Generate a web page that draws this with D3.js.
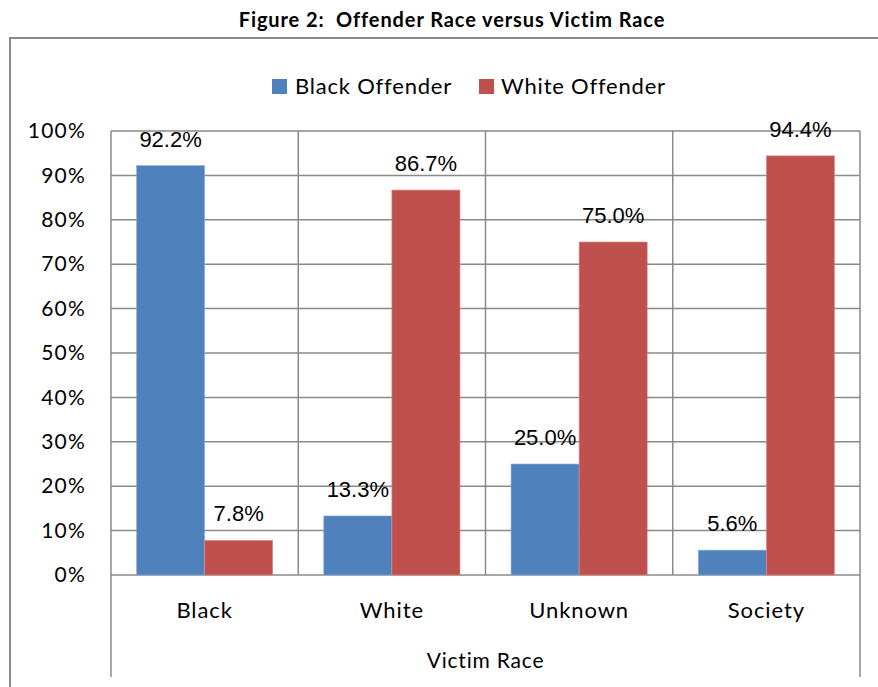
<!DOCTYPE html>
<html><head><meta charset="utf-8">
<script src="https://cdn.jsdelivr.net/npm/d3@7"></script>
<style>body{margin:0;background:#fff}svg{display:block}</style>
</head><body>
<svg id="c" width="878" height="687"></svg>
<script>
const categories = ["Black", "White", "Unknown", "Society"];
const seriesNames = ["Black Offender", "White Offender"];
const blackOffender = [92.2, 13.3, 25.0, 5.6];
const whiteOffender = [7.8, 86.7, 75.0, 94.4];
const tickValues = [0,10,20,30,40,50,60,70,80,90,100];
const colors = ["#4F81BD", "#C0504D"];
const title = "Figure 2:  Offender Race versus Victim Race";
const xTitle = "Victim Race";

const svg = d3.select("#c");
const F = "Lato, 'Open Sans', sans-serif";
const L = {left:111, right:860, top:131, bottom:575};

svg.append("text").attr("x",452).attr("y",27).attr("text-anchor","middle")
  .style("white-space","pre")
  .attr("font-family",F).attr("font-weight","bold").attr("font-size",20).attr("letter-spacing",0.9)
  .attr("fill","#000").text(title);

// outer chart border
svg.append("rect").attr("x",10).attr("y",38).attr("width",890).attr("height",700)
  .attr("fill","none").attr("stroke","#8a8a8a").attr("stroke-width",2);

const x0 = d3.scaleBand().domain(categories).range([L.left, L.right]);
const x1 = d3.scaleBand().domain(seriesNames).range([0, x0.bandwidth()]).paddingOuter((51/2)/68).paddingInner(0);
const y = d3.scaleLinear().domain([0,100]).range([L.bottom, L.top]);

// gridlines
svg.append("g").selectAll("line").data(tickValues).join("line")
  .attr("x1",L.left).attr("x2",L.right).attr("y1",d=>y(d)).attr("y2",d=>y(d))
  .attr("stroke","#8a8a8a").attr("stroke-width",1.5);
// category dividers
svg.append("g").selectAll("line").data(categories.slice(1)).join("line")
  .attr("x1",d=>x0(d)).attr("x2",d=>x0(d)).attr("y1",L.top).attr("y2",L.bottom)
  .attr("stroke","#8a8a8a").attr("stroke-width",1.5);
// outer axis lines extending to bottom
[L.left, L.right].forEach(xx=>{
  svg.append("line").attr("x1",xx).attr("x2",xx).attr("y1",L.top).attr("y2",677)
    .attr("stroke","#8a8a8a").attr("stroke-width",1.5);
});

// y axis labels
const yAxis = d3.axisLeft(y).tickValues(tickValues).tickFormat(d=>d+"%").tickSize(0).tickPadding(25);
const ya = svg.append("g").attr("transform",`translate(${L.left},0)`).call(yAxis);
ya.select(".domain").remove();
ya.selectAll("text").attr("font-family",F).attr("font-size",21).attr("letter-spacing",1.2).attr("fill","#000");

// bars
const data = categories.map((c,i)=>({cat:c, vals:[blackOffender[i], whiteOffender[i]]}));
const g = svg.append("g").selectAll("g").data(data).join("g")
  .attr("transform",d=>`translate(${x0(d.cat)},0)`);
g.selectAll("rect").data(d=>d.vals.map((v,j)=>({v, s:seriesNames[j], j}))).join("rect")
  .attr("x",d=>x1(d.s)).attr("width",x1.bandwidth())
  .attr("y",d=>y(d.v)).attr("height",d=>y(0)-y(d.v))
  .attr("fill",d=>colors[d.j]).attr("stroke",d=>d.j? "#e08a88":"#8fb0dc").attr("stroke-width",0.6);
g.selectAll("text").data(d=>d.vals.map((v,j)=>({v, s:seriesNames[j], j}))).join("text")
  .attr("x",d=>x1(d.s)+x1.bandwidth()/2).attr("y",d=>y(d.v)-19)
  .attr("text-anchor","middle").attr("font-family","'Liberation Sans', Arial, sans-serif")
  .attr("font-size",22).attr("fill","#000").text(d=>d.v.toFixed(1)+"%");

// category labels
svg.append("g").selectAll("text").data(categories).join("text")
  .attr("x",d=>x0(d)+x0.bandwidth()/2).attr("y",618).attr("text-anchor","middle")
  .attr("font-family",F).attr("font-size",22).attr("letter-spacing",0.9).attr("fill","#000").text(d=>d);
svg.append("text").attr("x",(L.left+L.right)/2).attr("y",668).attr("text-anchor","middle")
  .attr("font-family",F).attr("font-size",21).attr("letter-spacing",0.8).attr("fill","#000").text(xTitle);

// legend
const leg = [{x:272, tx:295},{x:479, tx:501}];
seriesNames.forEach((s,i)=>{
  svg.append("rect").attr("x",leg[i].x).attr("y",79).attr("width",15).attr("height",15).attr("fill",colors[i]);
  svg.append("text").attr("x",leg[i].tx).attr("y",94).attr("font-family",F).attr("font-size",22)
    .attr("letter-spacing",0.8).attr("fill","#000").text(s);
});
</script>
</body></html>
